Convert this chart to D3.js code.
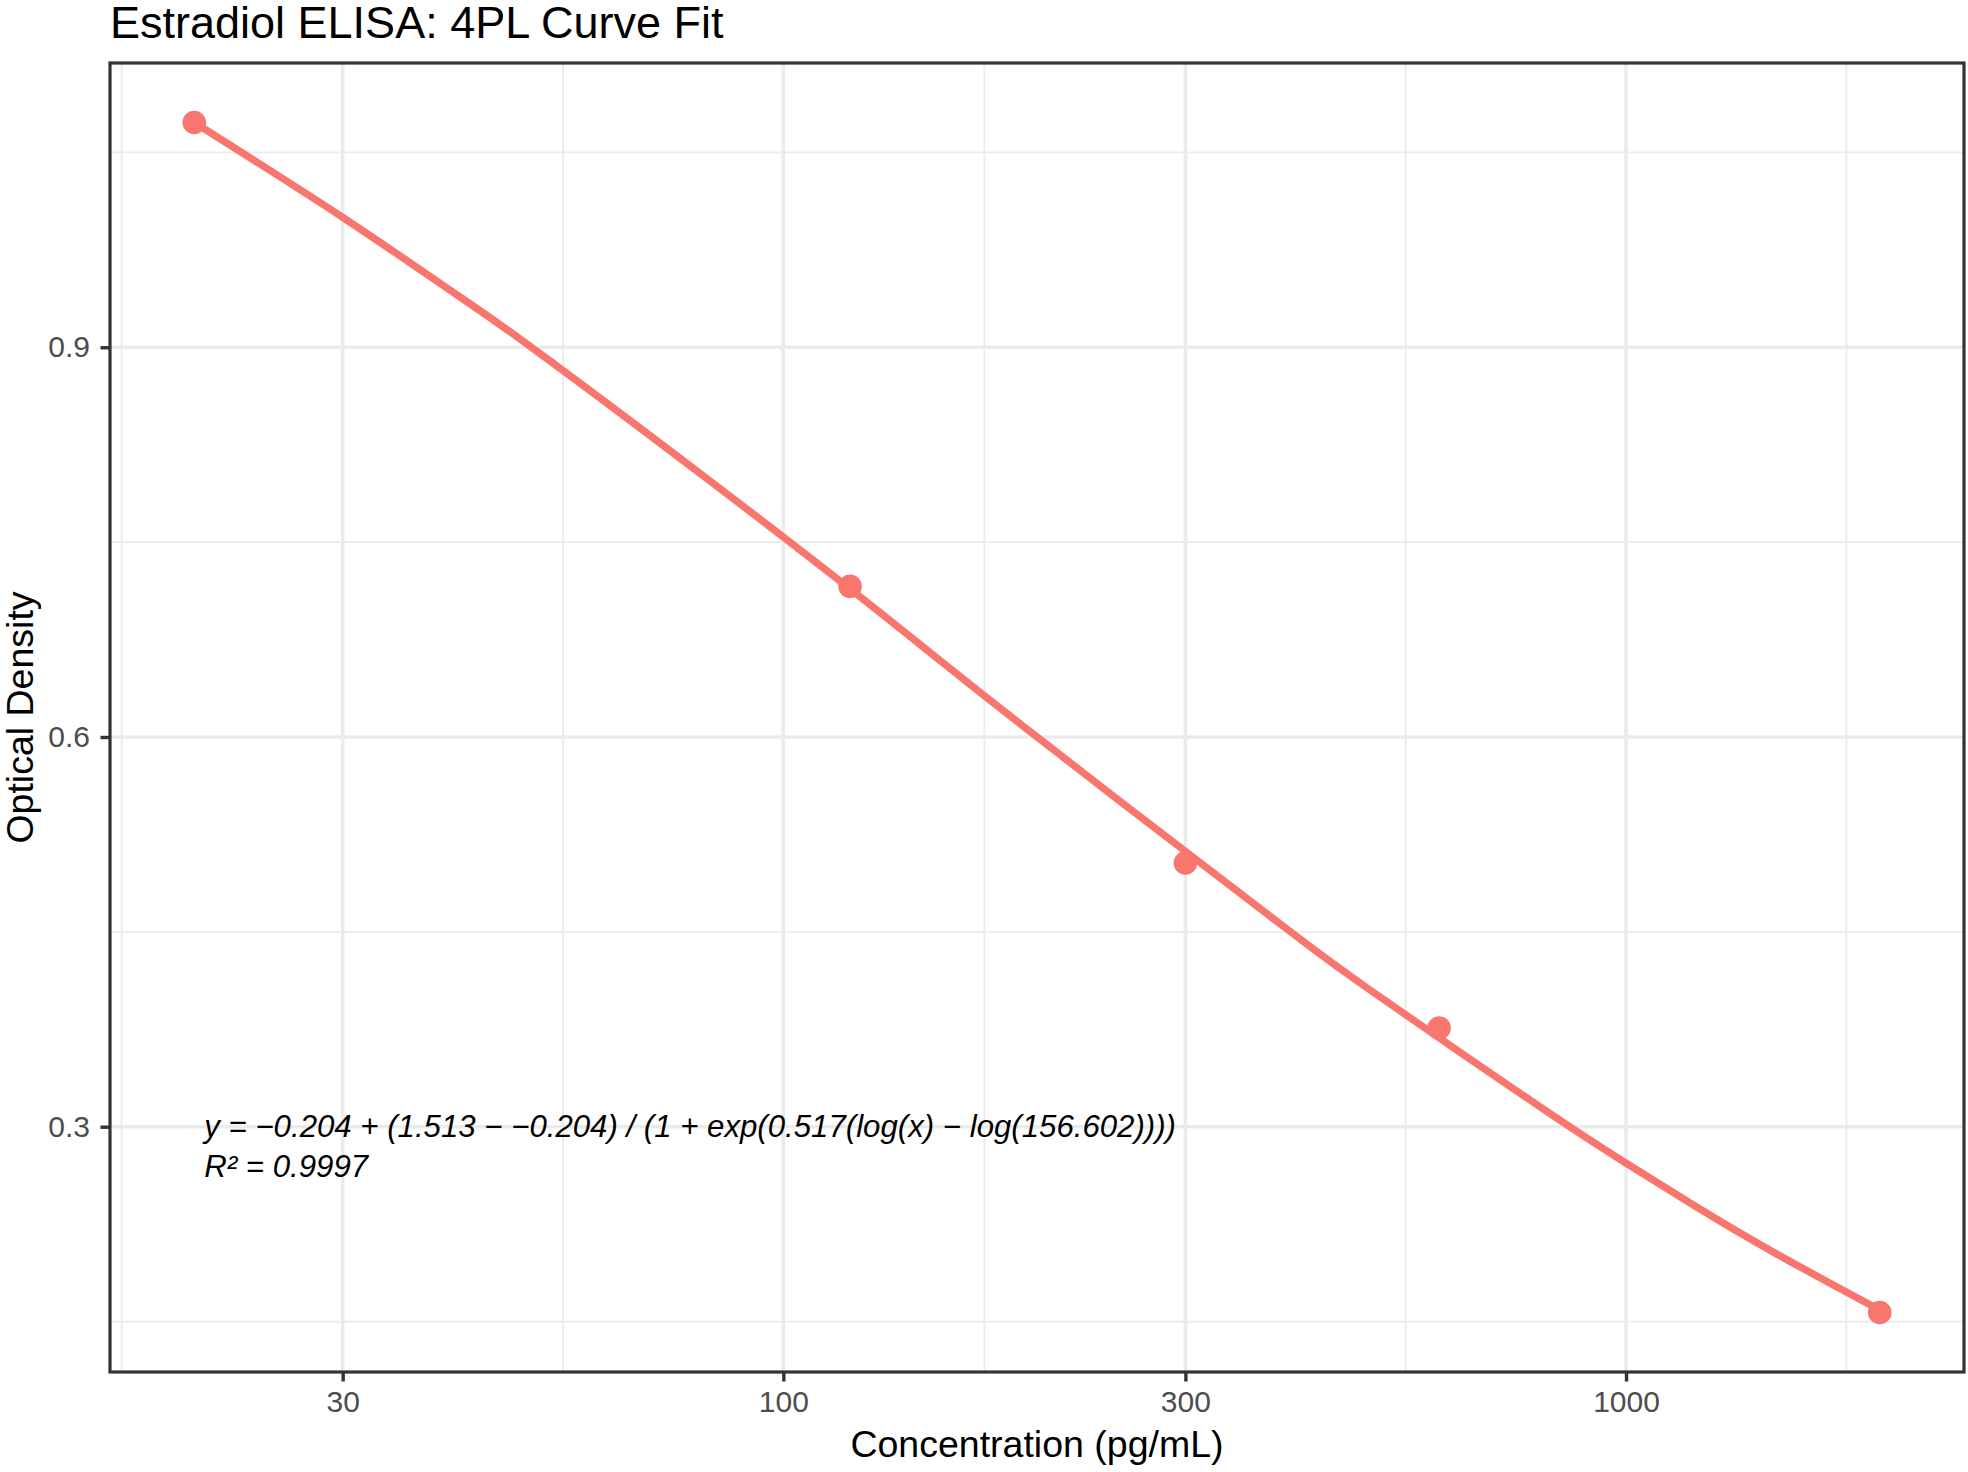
<!DOCTYPE html>
<html>
<head>
<meta charset="utf-8">
<script src="https://cdn.jsdelivr.net/npm/d3@7"></script>
<style>
  body { margin: 0; background: #fff; }
  text { font-family: "Liberation Sans", Arial, Helvetica, sans-serif; }
</style>
</head>
<body>
<script>
// standard points (concentration pg/mL, optical density)
const concentration = [20, 120, 300, 600, 2000]
const opticalDensity = [1.073, 0.716, 0.503, 0.376, 0.157]

// fitted 4PL curve
const curveConc = [20, 30, 40, 50, 80, 120, 150, 200, 300, 400, 500, 800, 1000, 1200, 1500, 2000]
const curveOD = [1.073, 1.000, 0.945, 0.901, 0.802, 0.714, 0.664, 0.600, 0.512, 0.450, 0.404, 0.313, 0.272, 0.240, 0.203, 0.159]

// breaks
const xBreaks = [30, 100, 300, 1000]
const xMinorBreaks = [16.4, 54.8, 173.2, 547.7, 1826]
const yBreaks = [0.3, 0.6, 0.9]
const yMinorBreaks = [0.15, 0.45, 0.75, 1.05]

const titleText = "Estradiol ELISA: 4PL Curve Fit"
const xTitle = "Concentration (pg/mL)"
const yTitle = "Optical Density"
const eqLines = [
  "y = \u22120.204 + (1.513 \u2212 \u22120.204) / (1 + exp(0.517(log(x) \u2212 log(156.602))))",
  "R\u00B2 = 0.9997"
]

const width = 1968
const height = 1472
const margin = ({ top: 63, right: 4, bottom: 100, left: 110 })
const red = '#F8766D'
const gridCol = '#EBEBEB'

// ggplot style 5% expansion
const lx = d3.extent(concentration).map(Math.log10)
const ex = (lx[1] - lx[0]) * 0.05
const x = d3.scaleLog()
    .domain([Math.pow(10, lx[0] - ex), Math.pow(10, lx[1] + ex)])
    .range([margin.left, width - margin.right])

const ly = d3.extent(opticalDensity)
const ey = (ly[1] - ly[0]) * 0.05
const y = d3.scaleLinear()
    .domain([ly[0] - ey, ly[1] + ey])
    .range([height - margin.bottom, margin.top])

const svg = d3.select('body')
    .append('svg')
    .attr('width', width)
    .attr('height', height)
    .attr('viewBox', [0, 0, width, height])

svg.append('rect')
    .attr('width', width).attr('height', height).attr('fill', '#fff')

const px0 = margin.left, px1 = width - margin.right
const py0 = margin.top, py1 = height - margin.bottom

svg.append('clipPath').attr('id', 'panel')
  .append('rect')
    .attr('x', px0).attr('y', py0)
    .attr('width', px1 - px0).attr('height', py1 - py0)

const grid = svg.append('g').attr('clip-path', 'url(#panel)')

// minor grid
grid.selectAll('.xminor')
  .data(xMinorBreaks)
  .join('line')
    .attr('x1', d => x(d)).attr('x2', d => x(d))
    .attr('y1', py0).attr('y2', py1)
    .attr('stroke', gridCol).attr('stroke-width', 1.8)
grid.selectAll('.yminor')
  .data(yMinorBreaks)
  .join('line')
    .attr('y1', d => y(d)).attr('y2', d => y(d))
    .attr('x1', px0).attr('x2', px1)
    .attr('stroke', gridCol).attr('stroke-width', 1.8)

// major grid
grid.selectAll('.xmajor')
  .data(xBreaks)
  .join('line')
    .attr('x1', d => x(d)).attr('x2', d => x(d))
    .attr('y1', py0).attr('y2', py1)
    .attr('stroke', gridCol).attr('stroke-width', 3.6)
grid.selectAll('.ymajor')
  .data(yBreaks)
  .join('line')
    .attr('y1', d => y(d)).attr('y2', d => y(d))
    .attr('x1', px0).attr('x2', px1)
    .attr('stroke', gridCol).attr('stroke-width', 3.6)

// fitted curve
const curveData = curveConc.map((c, i) => [c, curveOD[i]])
svg.append('path')
    .datum(curveData)
    .attr('fill', 'none')
    .attr('stroke', red)
    .attr('stroke-width', 7.3)
    .attr('stroke-linecap', 'butt')
    .attr('d', d3.line()
        .x(d => x(d[0]))
        .y(d => y(d[1]))
        .curve(d3.curveNatural))

// points
svg.append('g')
  .selectAll('circle')
  .data(concentration)
  .join('circle')
    .attr('cx', d => x(d))
    .attr('cy', (d, i) => y(opticalDensity[i]))
    .attr('r', 11.8)
    .attr('fill', red)

// equation annotation
svg.append('g')
  .selectAll('text')
  .data(eqLines)
  .join('text')
    .attr('x', x(concentration[0]) + 10)
    .attr('y', (d, i) => y(0.3) + 10 + i * 40)
    .attr('font-size', 31.2)
    .attr('font-style', 'italic')
    .attr('fill', '#000')
    .text(d => d)

// panel border
svg.append('rect')
    .attr('x', px0).attr('y', py0)
    .attr('width', px1 - px0).attr('height', py1 - py0)
    .attr('fill', 'none')
    .attr('stroke', '#333333')
    .attr('stroke-width', 3.2)

// axes
const xAxis = g => g
    .attr('transform', `translate(0,${py1})`)
    .call(d3.axisBottom(x).tickValues(xBreaks).tickFormat(d3.format('d')).tickSize(9.5).tickPadding(9))
    .call(g => g.select('.domain').remove())

const yAxis = g => g
    .attr('transform', `translate(${px0},0)`)
    .call(d3.axisLeft(y).tickValues(yBreaks).tickFormat(d3.format('.1f')).tickSize(9.5).tickPadding(10.5))
    .call(g => g.select('.domain').remove())

svg.append('g').call(xAxis)
svg.append('g').call(yAxis)

svg.selectAll('.tick line')
    .attr('stroke', '#333333')
    .attr('stroke-width', 3.4)
svg.selectAll('.tick text')
    .attr('font-size', 30)
    .attr('font-family', '"Liberation Sans", Arial, sans-serif')
    .attr('fill', '#4D4D4D')

// titles
svg.append('text')
    .attr('x', px0)
    .attr('y', 38)
    .attr('font-size', 45)
    .attr('fill', '#000')
    .text(titleText)

svg.append('text')
    .attr('x', (px0 + px1) / 2)
    .attr('y', 1457)
    .attr('text-anchor', 'middle')
    .attr('font-size', 37.5)
    .attr('fill', '#000')
    .text(xTitle)

svg.append('text')
    .attr('transform', `translate(33,${(py0 + py1) / 2}) rotate(-90)`)
    .attr('text-anchor', 'middle')
    .attr('font-size', 37.5)
    .attr('fill', '#000')
    .text(yTitle)
</script>
</body>
</html>
